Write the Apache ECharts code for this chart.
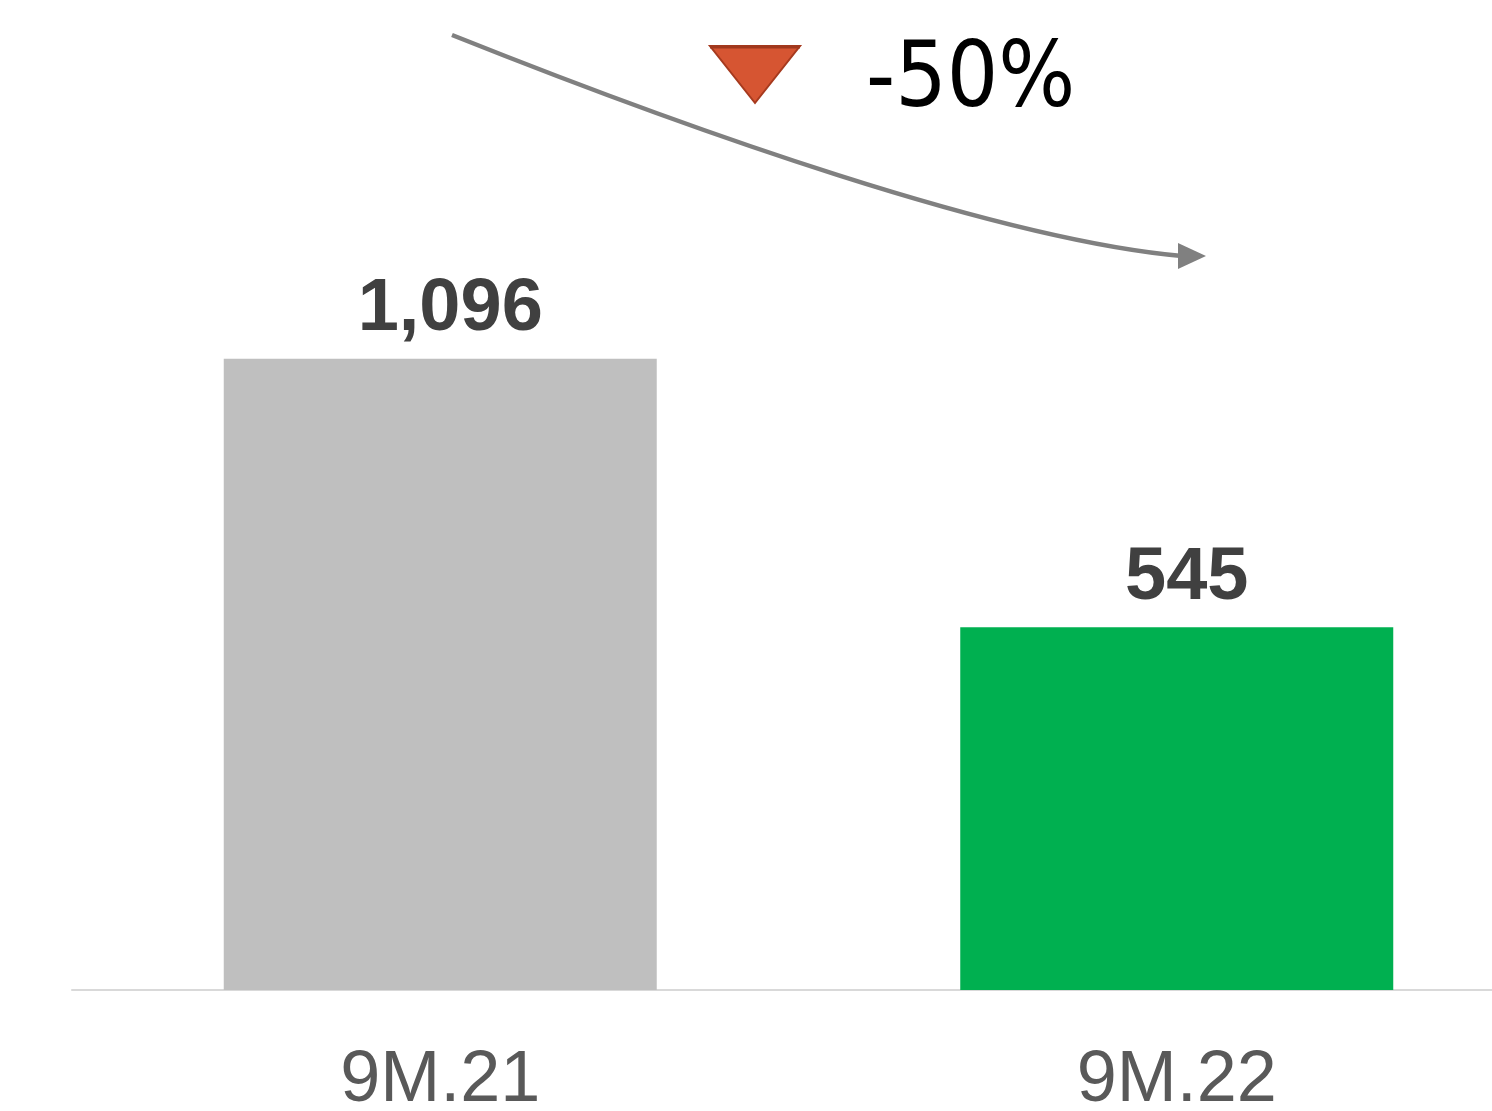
<!DOCTYPE html>
<html>
<head>
<meta charset="utf-8">
<script src="https://cdn.jsdelivr.net/npm/echarts@6/dist/echarts.min.js"></script>
<style>
  html, body { margin: 0; padding: 0; background: #ffffff; }
  #chart { width: 1492px; height: 1111px; }
</style>
</head>
<body>
<div id="chart"></div>
<script>
// Period labels and values
const categories = ['9M.21', '9M.22'];
const values = [1096, 545];
const barColors = ['#BFBFBF', '#00B050'];
const changeText = '-50%';

const chart = echarts.init(document.getElementById('chart'), null, { renderer: 'canvas' });

const option = {
  backgroundColor: '#ffffff',
  animation: false,
  grid: {
    left: 72,
    top: 16,
    width: 1473,
    height: 974,
    containLabel: false,
    outerBoundsMode: 'none'
  },
  xAxis: {
    type: 'category',
    data: categories,
    axisLine: { show: true, onZero: false, lineStyle: { color: '#D9D9D9', width: 2 } },
    axisTick: { show: false },
    splitLine: { show: false },
    axisLabel: {
      fontFamily: 'Liberation Sans, Arial, sans-serif',
      fontSize: 72,
      color: '#595959',
      margin: 55
    }
  },
  yAxis: {
    type: 'value',
    min: -200,
    max: 1800,
    startValue: -200,
    show: false,
    splitLine: { show: false }
  },
  series: [{
    type: 'bar',
    barWidth: 433,
    data: values.map((v, i) => ({ value: v, itemStyle: { color: barColors[i] } })),
    label: {
      show: true,
      position: 'top',
      distance: 12,
      offset: [10, 0],
      fontFamily: 'Liberation Sans, Arial, sans-serif',
      fontWeight: 'bold',
      fontSize: 74,
      color: '#404040',
      formatter: p => p.value.toLocaleString('en-US')
    }
  }],
  graphic: [
    // curved trend arrow
    {
      type: 'bezierCurve',
      shape: { x1: 452, y1: 35, cpx1: 690, cpy1: 130, cpx2: 1000, cpy2: 240, x2: 1182, y2: 256 },
      style: { stroke: '#808080', lineWidth: 4.5, fill: null }
    },
    {
      type: 'polygon',
      shape: { points: [[1178, 243], [1178, 269], [1206, 256]] },
      style: { fill: '#808080' }
    },
    // down marker
    {
      type: 'polygon',
      shape: { points: [[710, 46], [800, 46], [755, 103]] },
      style: { fill: '#D65532', stroke: '#A63A1E', lineWidth: 2 }
    },
    {
      type: 'line',
      shape: { x1: 710, y1: 47, x2: 800, y2: 47 },
      style: { stroke: '#A0381D', lineWidth: 3 }
    },
    {
      type: 'text',
      left: 866,
      top: 38,
      style: {
        text: changeText,
        fontFamily: 'DejaVu Sans Condensed, DejaVu Sans, sans-serif',
        fontSize: 90,
        fill: '#000000'
      }
    }
  ]
};

chart.setOption(option);
</script>
</body>
</html>
